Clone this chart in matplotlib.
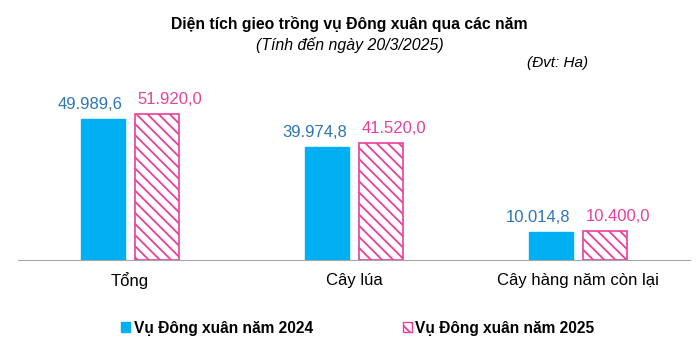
import matplotlib.pyplot as plt
import numpy as np
from matplotlib.patches import Patch

plt.rcParams['font.family'] = ['Liberation Sans', 'DejaVu Sans']
plt.rcParams['hatch.linewidth'] = 1.3

# Data
categories = ["Tổng", "Cây lúa", "Cây hàng năm còn lại"]
series_names = ["Vụ Đông xuân năm 2024", "Vụ Đông xuân năm 2025"]
values_2024 = [49989.6, 39974.8, 10014.8]
values_2025 = [51920.0, 41520.0, 10400.0]
labels_2024 = ["49.989,6", "39.974,8", "10.014,8"]
labels_2025 = ["51.920,0", "41.520,0", "10.400,0"]

BLUE = "#00B0F0"
BLUE_TEXT = "#2E75B6"
PINK = "#E8409B"

fig = plt.figure(figsize=(6.99, 3.57), dpi=100)
ax = fig.add_axes([18 / 699, 97 / 357, 672 / 699, 190 / 357])

x = np.arange(len(categories))
w = 0.197
off = 0.122

ax.bar(x - off, values_2024, width=w, color=BLUE, edgecolor=BLUE)
ax.bar(x + off, values_2025, width=w, color="white", edgecolor=PINK,
       hatch="\\\\\\", linewidth=1.2)

for xi, v, lab in zip(x, values_2024, labels_2024):
    ax.text(xi - off - 0.055, v + 2500, lab, ha="center", va="bottom",
            color=BLUE_TEXT, fontsize=12)
for xi, v, lab in zip(x, values_2025, labels_2025):
    ax.text(xi + off + 0.055, v + 2500, lab, ha="center", va="bottom",
            color=PINK, fontsize=12)

ax.set_xlim(-0.5, 2.5)
ax.set_ylim(0, 67400)
ax.set_yticks([])
ax.set_xticks(x)
ax.set_xticklabels(categories, fontsize=12)
ax.tick_params(axis="x", length=0, pad=9)
for s in ["top", "right", "left"]:
    ax.spines[s].set_visible(False)
ax.spines["bottom"].set_color("#A6A6A6")

fig.text(0.5, 1 - 24 / 357, "Diện tích gieo trồng vụ Đông xuân qua các năm",
         ha="center", va="center", fontsize=11.3, fontweight="bold")
fig.text(0.5, 1 - 45 / 357, "(Tính đến ngày 20/3/2025)",
         ha="center", va="center", fontsize=11.4, style="italic")
fig.text(588 / 699, 1 - 63 / 357, "(Đvt: Ha)",
         ha="right", va="center", fontsize=11, style="italic")

handles = [Patch(facecolor=BLUE, edgecolor=BLUE),
           Patch(facecolor="white", edgecolor=PINK, hatch="\\\\\\")]
fig.legend(handles, series_names, loc="center", bbox_to_anchor=(0.512, 1 - 328 / 357),
           ncol=2, frameon=False, handlelength=0.55, handleheight=0.55,
           handletextpad=0.25, columnspacing=5.8,
           prop={"weight": "bold", "size": 11.2})

fig.savefig("out.png", dpi=100)
